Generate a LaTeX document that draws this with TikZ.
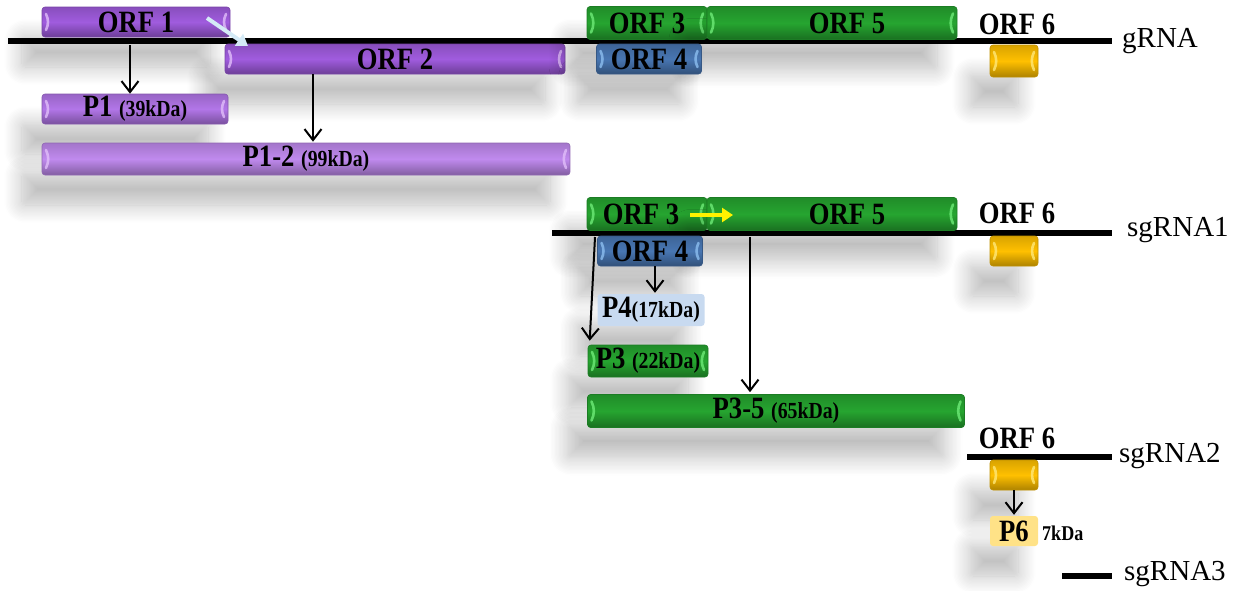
\documentclass[tikz,border=0pt]{standalone}
\usepackage{fontspec}
\setmainfont{Liberation Serif}
\newfontfamily\lblfont{Liberation Serif}[FakeStretch=0.86]
\usetikzlibrary{arrows.meta,shadows.blur,calc}
\definecolor{purp}{RGB}{160,92,222}
\definecolor{purpl}{RGB}{178,118,232}
\definecolor{purpll}{RGB}{192,138,238}
\definecolor{purpcap}{RGB}{225,190,250}
\definecolor{grn}{RGB}{38,165,48}
\definecolor{grncap}{RGB}{110,235,120}
\definecolor{blu}{RGB}{72,118,178}
\definecolor{blucap}{RGB}{140,190,240}
\definecolor{yel}{RGB}{255,192,0}
\definecolor{yelcap}{RGB}{255,232,120}
\definecolor{pfour}{RGB}{200,218,240}
\definecolor{psix}{RGB}{255,226,135}
\definecolor{lblue}{RGB}{212,234,246}
\newcommand{\kd}[1]{{\fontsize{23}{24}\selectfont #1}}
\begin{document}
\begin{tikzpicture}[x=1pt,y=-1pt,
  shadowed/.style={blur shadow={shadow xshift=-20pt, shadow yshift=-30pt, shadow blur radius=18pt, shadow blur steps=14, shadow opacity=26}},
  bar/.style 2 args={draw=#1!75!black, line width=0.6pt, rounded corners=3pt,
    top color=#1!85!black, bottom color=#1!68!black, middle color=#1,
    inner sep=0pt, anchor=center, shadowed,
    font=\lblfont\bfseries\fontsize{31}{32}\selectfont,
    path picture={
      \draw[#2, line width=2.6pt, line cap=round, opacity=0.8]
        ([xshift=4pt,yshift=7pt]path picture bounding box.south west) to[bend right=25]
        ([xshift=4pt,yshift=-7pt]path picture bounding box.north west);
      \draw[#2, line width=2.6pt, line cap=round, opacity=0.8]
        ([xshift=-4pt,yshift=7pt]path picture bounding box.south east) to[bend left=25]
        ([xshift=-4pt,yshift=-7pt]path picture bounding box.north east);
    }},
  flatbox/.style={fill=#1, rounded corners=3pt, inner sep=0pt, shadowed,
    font=\lblfont\bfseries\fontsize{31}{32}\selectfont},
  rna/.style={line width=6pt, black},
  lbl/.style={font=\lblfont\bfseries\fontsize{31}{32}\selectfont, inner sep=0pt},
  rnalbl/.style={font=\fontsize{29}{30}\selectfont, inner sep=0pt, anchor=west},
  arr/.style={line width=2pt, -{Straight Barb[length=11pt,width=17pt,line width=2pt]}},
  fat/.style={line width=4pt, -{Triangle[length=11pt,width=14pt]}}
]
\useasboundingbox (0,0) rectangle (1237,590);

% ---------- gRNA ----------
\coordinate (gL) at (8,41);
\coordinate (gR) at (1112,41);
\draw[rna] (gL) -- (gR);
\node[bar={purp}{purpcap}, minimum width=188pt, minimum height=30pt] (orf1) at (136,22) {ORF 1};
\node[bar={purp}{purpcap}, minimum width=340pt, minimum height=30pt] (orf2) at (395,59) {ORF 2};
\node[bar={grn}{grncap}, minimum width=120pt, minimum height=33pt] (orf3a) at (647,23) {ORF 3};
\node[bar={grn}{grncap}, minimum width=250pt, minimum height=33pt] (orf5a) at (832,23) {\hspace*{30pt}ORF 5};
\node[bar={blu}{blucap}, minimum width=105pt, minimum height=30pt] (orf4a) at (649,59) {ORF 4};
\node[bar={yel}{yelcap}, minimum width=48pt, minimum height=32pt] (y1) at (1014,61) {};
\node[lbl] (o6a) at (1017,24) {ORF 6};
\node[rnalbl] (gname) at (1122,41) {gRNA};
\node[bar={purpl}{purpcap}, minimum width=186pt, minimum height=30pt] (p1) at (135,109) {P1 \kd{(39kDa)}};
\node[bar={purpll}{purpcap}, minimum width=528pt, minimum height=32pt] (p12) at (306,159) {P1-2 \kd{(99kDa)}};
\coordinate (pa2) at (313,0);
\draw[arr] ($(orf1.south)+(-6,8)$) -- ([xshift=-5pt]p1.north);
\draw[arr] (orf2.south -| pa2) -- ([yshift=1pt]p12.north -| pa2);
\coordinate (b1) at (207,18);
\coordinate (b2) at (248,46);
\draw[fat, lblue] (b1) -- (b2);

% ---------- sgRNA1 ----------
\coordinate (s1L) at (552,233);
\coordinate (s1R) at (1112,233);
\draw[rna] (s1L) -- (s1R);
\node[bar={grn}{grncap}, minimum width=120pt, minimum height=33pt] (orf3b) at (647,214) {ORF 3\hspace*{12pt}};
\node[bar={grn}{grncap}, minimum width=250pt, minimum height=33pt] (orf5b) at (832,214) {\hspace*{30pt}ORF 5};
\node[bar={blu}{blucap}, minimum width=105pt, minimum height=30pt] (orf4b) at (650,251) {ORF 4};
\node[bar={yel}{yelcap}, minimum width=48pt, minimum height=30pt] (y2) at (1014,251) {};
\node[lbl] (o6b) at (1017,213) {ORF 6};
\node[rnalbl] (s1name) at (1127,230) {sgRNA1};
\node[flatbox=pfour, minimum width=107pt, minimum height=32pt] (p4) at (651,310) {P4\kd{(17kDa)}};
\node[bar={grn}{grncap}, minimum width=120pt, minimum height=32pt] (p3) at (648,361) {P3 \kd{(22kDa)}};
\node[bar={grn}{grncap}, minimum width=377pt, minimum height=33pt] (p35) at (776,411) {P3-5 \kd{(65kDa)}};
\coordinate (ya) at (690,215);
\coordinate (yb) at (733,215);
\draw[fat, yellow] (ya) -- (yb);
\coordinate (s3) at (595,237);
\coordinate (s5) at (750,237);
\draw[arr] (s3) -- ([xshift=2pt,yshift=4pt]p3.north west);
\draw[arr] ([xshift=5pt]orf4b.south) -- ([xshift=4pt,yshift=1pt]p4.north);
\draw[arr] (s5) -- ([yshift=2pt]s5 |- p35.north);

% ---------- sgRNA2 ----------
\coordinate (s2L) at (967,457);
\coordinate (s2R) at (1112,457);
\draw[rna] (s2L) -- (s2R);
\node[lbl] (o6c) at (1017,438) {ORF 6};
\node[rnalbl] (s2name) at (1119,456) {sgRNA2};
\node[bar={yel}{yelcap}, minimum width=48pt, minimum height=30pt] (y3) at (1014,475) {};
\node[flatbox=psix, minimum width=48pt, minimum height=30pt] (p6) at (1014,531) {P6};
\node[lbl, anchor=west, font=\lblfont\bfseries\fontsize{21}{22}\selectfont] (kd6) at (1042,533) {7kDa};
\draw[arr] (y3.south) -- ([yshift=1pt]p6.north);

% ---------- sgRNA3 ----------
\coordinate (s3L) at (1062,576);
\coordinate (s3R) at (1112,576);
\draw[rna] (s3L) -- (s3R);
\node[rnalbl] (s3name) at (1124,574) {sgRNA3};
\end{tikzpicture}
\end{document}
